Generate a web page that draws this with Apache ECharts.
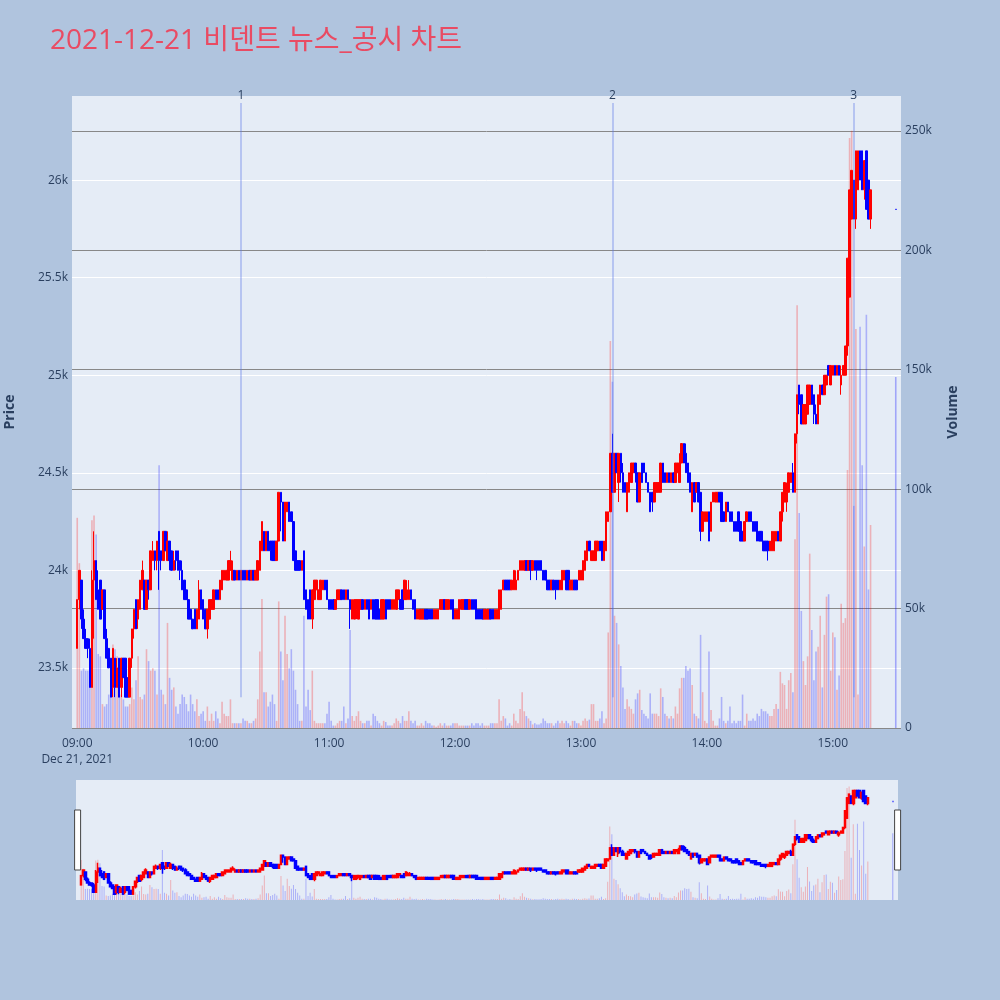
<!DOCTYPE html>
<html>
<head>
<meta charset="utf-8">
<script src="https://cdn.jsdelivr.net/npm/echarts@6/dist/echarts.min.js"></script>
<style>
  html, body { margin: 0; padding: 0; background: #B0C4DE; }
  #chart { width: 1000px; height: 1000px; }
</style>
</head>
<body>
<div id="chart"></div>
<script>
// 1분봉 [시가, 종가, 저가, 고가]
var h09 = [
  [23600,23850,23600,23850],[23850,24000,23800,24000],[23950,23750,23700,23950],[23750,23650,23650,23800],[23650,23600,23600,23700],
  [23650,23600,23550,23650],[23600,23400,23400,23650],[23400,23950,23400,24000],[23950,24050,23650,24200],[24050,23850,23850,24050],
  [23900,23800,23800,24000],[23950,23750,23750,23950],[23800,23900,23800,23900],[23900,23650,23650,23900],[23650,23550,23550,23700],
  [23600,23500,23500,23600],[23550,23350,23350,23550],[23400,23600,23350,23600],[23550,23400,23350,23550],[23400,23500,23400,23550],
  [23550,23350,23350,23550],[23400,23550,23350,23550],[23550,23450,23450,23550],[23550,23350,23350,23550],[23450,23350,23350,23450],
  [23350,23550,23350,23550],[23550,23700,23500,23700],[23700,23800,23650,23800],[23850,23700,23700,23850],[23750,23850,23700,23850],
  [23800,23950,23800,23950],[23900,24000,23900,24050],[23950,23800,23800,23950],[23800,23950,23800,23950],[23950,23900,23850,23950],
  [23900,24100,23900,24100],[24050,24100,24050,24150],[24100,24050,24000,24100],[24050,24150,24000,24150],[24200,24050,23900,24200],
  [24100,24050,24000,24100],[24050,24200,24050,24200],[24200,24100,24100,24200],[24050,24150,24050,24200],[24150,24050,24000,24150],
  [24100,24000,24000,24100],[24000,24050,24000,24100],[24100,24050,24000,24100],[24100,24000,24000,24100],[24050,24000,23950,24050],
  [24000,23900,23900,24050],[23950,23850,23850,23950],[23900,23850,23850,23900],[23850,23750,23750,23850],[23800,23750,23750,23800],
  [23750,23700,23700,23750],[23800,23700,23700,23800],[23700,23800,23700,23800],[23750,23900,23750,23950],[23900,23800,23800,23900]
];
var h10 = [
  [23850,23750,23750,23850],[23800,23700,23700,23800],[23700,23800,23650,23800],[23750,23850,23750,23850],[23800,23850,23800,23850],
  [23800,23900,23800,23900],[23900,23850,23850,23900],[23900,23850,23850,23900],[23850,23950,23850,23950],[23900,24000,23900,24000],
  [23950,24000,23950,24000],[23950,24000,23950,24000],[23950,24050,23950,24050],[24000,24050,24000,24100],[23950,24000,23950,24050],
  [24000,23950,23950,24000],[23950,24000,23950,24000],[24000,23950,23950,24000],[23950,24000,23950,24000],[24000,23950,23950,24000],
  [24000,23950,23950,24000],[23950,24000,23950,24000],[24000,23950,23950,24000],[23950,24000,23950,24000],[24000,23950,23950,24000],
  [23950,24000,23950,24000],[23950,24050,23950,24050],[24000,24150,24000,24150],[24100,24250,24100,24250],[24200,24100,24100,24200],
  [24100,24200,24100,24200],[24200,24100,24100,24200],[24150,24100,24050,24150],[24150,24050,24050,24150],[24150,24050,24050,24150],
  [24050,24150,24050,24150],[24150,24400,24150,24400],[24400,24350,24200,24400],[24350,24150,24150,24350],[24150,24350,24150,24350],
  [24300,24350,24300,24350],[24350,24250,24250,24350],[24300,24250,24250,24300],[24250,24050,24050,24250],[24100,24000,24000,24100],
  [24050,24000,24000,24050],[24050,24000,24000,24050],[24000,24050,24000,24050],[24100,23850,23850,24100],[23900,23800,23800,23900],
  [23850,23750,23750,23850],[23900,23750,23750,23900],[23750,23900,23700,23900],[23850,23950,23850,23950],[23900,23950,23900,23950],
  [23850,23900,23850,23900],[23850,23950,23850,23950],[23900,23950,23900,23950],[23950,23900,23900,23950],[23950,23850,23850,23950]
];
var h11 = [
  [23850,23800,23800,23850],[23850,23800,23800,23850],[23850,23800,23800,23850],[23800,23850,23800,23850],[23850,23900,23850,23900],
  [23850,23900,23850,23900],[23900,23850,23850,23900],[23900,23850,23850,23900],[23850,23900,23850,23900],[23900,23850,23850,23900],
  [23850,23800,23700,23850],[23750,23850,23750,23850],[23750,23850,23750,23850],[23800,23850,23750,23850],[23750,23850,23750,23850],
  [23800,23850,23800,23850],[23850,23800,23800,23850],[23800,23850,23800,23850],[23850,23800,23800,23850],[23850,23750,23750,23850],
  [23800,23850,23800,23850],[23850,23750,23750,23850],[23850,23750,23750,23850],[23850,23750,23750,23850],[23800,23750,23750,23800],
  [23750,23850,23750,23850],[23750,23850,23750,23850],[23850,23750,23750,23850],[23850,23800,23800,23850],[23850,23800,23800,23850],
  [23800,23850,23800,23850],[23800,23850,23800,23850],[23800,23900,23800,23900],[23850,23900,23850,23900],[23850,23800,23800,23850],
  [23900,23800,23800,23900],[23850,23950,23850,23950],[23850,23900,23850,23950],[23850,23900,23850,23950],[23900,23850,23850,23900],
  [23850,23800,23800,23850],[23850,23750,23750,23850],[23750,23800,23750,23800],[23750,23800,23750,23800],[23750,23800,23750,23800],
  [23750,23800,23750,23800],[23800,23750,23750,23800],[23800,23750,23750,23800],[23800,23750,23750,23800],[23800,23750,23750,23800],
  [23750,23800,23750,23800],[23750,23800,23750,23800],[23750,23800,23750,23800],[23800,23850,23800,23850],[23800,23850,23800,23850],
  [23850,23800,23800,23850],[23800,23850,23800,23850],[23800,23850,23800,23850],[23850,23800,23800,23850],[23850,23750,23750,23850]
];
var h12 = [
  [23750,23800,23750,23800],[23750,23800,23750,23800],[23750,23850,23750,23850],[23800,23850,23800,23850],[23800,23850,23800,23850],
  [23850,23800,23800,23850],[23850,23800,23800,23850],[23800,23850,23800,23850],[23850,23800,23800,23850],[23850,23800,23800,23850],
  [23850,23750,23750,23850],[23800,23750,23750,23800],[23800,23750,23750,23800],[23800,23750,23750,23800],[23750,23800,23750,23800],
  [23750,23800,23750,23800],[23750,23800,23750,23800],[23800,23750,23750,23800],[23800,23750,23750,23800],[23750,23800,23750,23800],
  [23750,23800,23750,23800],[23750,23900,23750,23900],[23800,23900,23800,23900],[23900,23950,23900,23950],[23950,23900,23900,23950],
  [23950,23900,23900,23950],[23950,23900,23900,23950],[23900,23950,23900,23950],[23900,24000,23900,24000],[23900,23950,23900,24000],
  [23950,24000,23950,24000],[24000,24050,24000,24050],[24000,24050,24000,24050],[24000,24050,24000,24050],[24050,24000,24000,24050],
  [24000,24050,24000,24050],[24050,24000,23950,24050],[24000,24050,24000,24050],[24050,24000,24000,24050],[24050,24000,23950,24050],
  [24050,24000,24000,24050],[24050,24000,24000,24050],[24000,23950,23950,24000],[24000,23950,23950,24000],[23950,23900,23900,23950],
  [23950,23900,23900,23950],[23900,23950,23900,23950],[23950,23900,23900,23950],[23950,23900,23850,23950],[23950,23900,23900,23950],
  [23900,23950,23900,23950],[23900,24000,23900,24000],[23950,24000,23950,24000],[24000,23900,23900,24000],[24000,23900,23900,24000],
  [23900,23950,23900,23950],[23900,23950,23900,23950],[23950,23900,23900,23950],[23950,23900,23900,23950],[23950,24000,23950,24000]
];
var h13 = [
  [23950,24000,23950,24000],[23950,24050,23950,24050],[24000,24100,24000,24100],[24050,24150,24050,24150],[24150,24100,24100,24150],
  [24050,24100,24050,24100],[24050,24100,24050,24100],[24050,24150,24050,24150],[24100,24150,24100,24150],[24150,24100,24100,24150],
  [24150,24050,24050,24150],[24050,24150,24050,24150],[24100,24300,24100,24300],[24250,24300,24250,24300],[24300,24600,24300,24600],
  [24600,24400,24400,24700],[24400,24600,24400,24600],[24600,24500,24500,24600],[24450,24600,24350,24600],[24600,24500,24450,24600],
  [24500,24400,24400,24550],[24450,24400,24400,24450],[24300,24450,24300,24450],[24400,24500,24400,24500],[24450,24550,24450,24550],
  [24500,24550,24500,24550],[24550,24500,24450,24550],[24500,24350,24350,24500],[24350,24500,24350,24500],[24550,24450,24450,24550],
  [24550,24500,24500,24550],[24500,24450,24450,24500],[24450,24400,24400,24450],[24400,24300,24300,24400],[24400,24350,24300,24400],
  [24350,24450,24350,24450],[24400,24450,24400,24450],[24400,24450,24400,24450],[24400,24550,24400,24550],[24550,24450,24450,24550],
  [24500,24450,24450,24500],[24450,24500,24450,24500],[24500,24450,24450,24500],[24450,24500,24450,24500],[24500,24450,24450,24500],
  [24450,24550,24450,24550],[24500,24550,24500,24550],[24450,24550,24450,24600],[24550,24650,24550,24650],[24650,24550,24550,24650],
  [24600,24500,24500,24650],[24550,24450,24450,24550],[24500,24400,24400,24500],[24300,24450,24300,24450],[24450,24350,24350,24450],
  [24400,24450,24400,24450],[24450,24350,24350,24450],[24400,24200,24150,24400],[24200,24300,24200,24300],[24250,24300,24250,24300]
];
var h14 = [
  [24250,24300,24250,24300],[24300,24150,24150,24300],[24200,24350,24200,24350],[24350,24400,24350,24400],[24350,24400,24350,24400],
  [24350,24400,24350,24400],[24400,24350,24350,24400],[24400,24250,24250,24400],[24300,24250,24250,24300],[24250,24350,24250,24350],
  [24350,24300,24300,24350],[24300,24250,24250,24300],[24300,24250,24250,24300],[24250,24200,24200,24250],[24250,24200,24200,24250],
  [24300,24200,24200,24300],[24250,24150,24150,24250],[24200,24150,24150,24200],[24150,24250,24150,24250],[24250,24300,24250,24300],
  [24300,24250,24250,24300],[24300,24250,24250,24300],[24250,24200,24200,24250],[24250,24200,24200,24250],[24250,24150,24150,24250],
  [24200,24150,24150,24200],[24200,24150,24150,24200],[24150,24100,24100,24150],[24150,24100,24100,24150],[24150,24100,24050,24150],
  [24100,24150,24100,24150],[24100,24200,24100,24200],[24100,24200,24100,24200],[24150,24200,24150,24200],[24200,24150,24150,24200],
  [24150,24300,24150,24300],[24300,24400,24250,24400],[24350,24450,24350,24450],[24350,24400,24300,24450],[24400,24500,24400,24500],
  [24450,24500,24450,24500],[24500,24400,24400,24550],[24400,24700,24400,24700],[24700,24900,24650,24900],[24950,24850,24800,24950],
  [24900,24750,24750,24900],[24750,24850,24750,24850],[24750,24850,24750,24850],[24800,24950,24800,24950],[24850,24950,24850,24950],
  [24950,24850,24850,24950],[24900,24800,24750,24900],[24800,24750,24750,24850],[24750,24900,24750,24900],[24850,24950,24850,24950],
  [24950,24900,24900,24950],[24900,25000,24900,25000],[24950,25000,24950,25000],[25050,25000,25000,25050],[24950,25050,24950,25050]
];
var h15 = [
  [25000,25050,25000,25050],[25050,25000,25000,25050],[25000,25050,25000,25050],[25050,25000,25000,25050],[24950,25000,24900,25050],
  [25000,25050,25000,25050],[25000,25150,25000,25150],[25150,25600,25100,25600],[25400,25950,25400,25950],[25800,26050,25800,26050],
  [26000,25800,25800,26000],[25800,26150,25750,26150],[25950,26150,25950,26150],[26150,26000,26000,26150],[26150,25950,25950,26150],
  [25950,26100,25900,26100],[26150,25850,25850,26150],[26000,25800,25800,26000],[25800,25950,25750,25950]
];
// 15:30 종가 단일가
var closeAuction = [25850,25850,25850,25850];

// 거래량
var v09 = [88000,69000,24000,25000,24000,24000,20000,87000,89000,81000,31000,30000,10000,9000,10000,14000,20000,35000,33000,30000,
  19000,14000,12000,9000,9000,10000,17000,12000,20000,30000,13000,12000,14000,33000,28000,24000,25000,24000,14000,110000,
  16000,14000,10000,44000,21000,16000,17000,9000,6000,10000,14000,13000,10000,7000,14000,10000,7000,12000,5000,6000];
var v10 = [7000,3000,9000,3000,6000,3000,7000,4000,2000,11000,6000,5000,5000,12000,2000,2000,2000,2000,2000,4000,
  3000,3000,2000,2000,3000,4000,12000,32000,54000,15000,15000,9000,11000,14000,10000,3000,53000,32000,20000,47000,
  31000,25000,33000,24000,16000,10000,3000,3000,47000,9000,16000,7500,24000,3000,2000,2000,2000,2000,2000,6000];
var v11 = [11000,3000,1000,1000,2000,3000,3000,9000,2000,4000,41000,5000,3000,5000,7000,3000,2000,2000,3000,3000,
  1000,6000,5000,3000,2000,1000,3000,2500,1000,1000,1000,2000,4000,3000,2000,5000,3000,3000,7000,3000,
  2000,3000,1000,1000,2000,1000,3000,2000,2000,1000,1000,500,1000,2000,1000,2000,1000,1000,1000,2000];
var v12 = [2000,2000,1000,1000,1000,1000,1000,1000,2000,1000,2000,2000,1000,2000,1000,1000,1000,2000,2000,2000,
  2000,12000,3000,5000,4000,1000,2000,1000,6000,3000,2000,8000,15000,7000,5000,4000,3000,1500,2000,1500,
  1500,2000,4000,3000,2000,2000,2000,1000,2000,3000,2000,3000,2000,3000,2000,1000,3000,3000,2000,2000];
var v13 = [1000,3000,4000,3000,3500,10000,10000,3000,3000,4000,7000,2000,4000,40000,162000,145000,47000,44000,35000,26000,
  17000,8000,12000,9000,8000,6000,12000,14500,16000,7500,6000,5000,4000,14500,6000,6000,6000,5000,16600,13000,
  6000,5000,4000,5000,4000,9000,6000,16600,21000,21000,26000,24000,25000,18000,6000,5000,4000,39000,15000,3000];
var v14 = [2000,32000,7500,3000,1000,1000,4000,13000,3000,2000,3000,9000,2000,3000,2000,3000,3000,14000,1000,6000,
  3000,3000,4000,3000,6000,5000,8000,7000,7000,6000,5000,5000,8000,10000,8000,23500,18700,18000,8000,20000,
  23000,15000,79000,177000,90000,49000,28000,18000,30000,73000,41000,20000,32000,34000,47000,17000,39000,55000,56000,24000];
var v15 = [40000,38000,16000,22000,52000,44000,46000,108000,247000,250000,93000,167000,14000,168000,110000,76000,173000,58000,85000];
var closeAuctionVol = 147000;

var hourLabels = ['09:00','10:00','11:00','12:00','13:00','14:00','15:00'];
var priceTicks = [23500, 24000, 24500, 25000, 25500, 26000];
var volumeTicks = [0, 50000, 100000, 150000, 200000, 250000];
var newsMarks = [{ name: '1', time: '10:18' }, { name: '2', time: '13:15' }, { name: '3', time: '15:10' }];

var UP = '#FF0000', DOWN = '#0000FF';

// x축 카테고리 (08:58 ~ 15:32, 1분 간격)
function hhmm(min) {
  var h = Math.floor(min / 60), m = min % 60;
  return (h < 10 ? '0' : '') + h + ':' + (m < 10 ? '0' : '') + m;
}
var categories = [];
for (var t = 9 * 60 - 2; t <= 15 * 60 + 32; t++) categories.push(hhmm(t));

var candles = [].concat(h09, h10, h11, h12, h13, h14, h15);
var vols = [].concat(v09, v10, v11, v12, v13, v14, v15);

var candleData = [], volData = [];
categories.forEach(function () { candleData.push('-'); volData.push('-'); });
var start = categories.indexOf('09:00');
candles.forEach(function (k, i) {
  candleData[start + i] = k;
  volData[start + i] = { value: vols[i], itemStyle: { color: k[1] > k[0] ? UP : DOWN, opacity: 0.25 } };
});
var auctionIdx = categories.indexOf('15:30');
candleData[auctionIdx] = closeAuction;
volData[auctionIdx] = { value: closeAuctionVol, itemStyle: { color: DOWN, opacity: 0.3 } };

var PRICE_MIN = 23192, PRICE_MAX = 26431, VOL_MAX = 264600;
var FONT = '"Open Sans", "Noto Sans CJK KR", sans-serif';
var AXIS_COLOR = '#2a3f5f';

var chart = echarts.init(document.getElementById('chart'));
chart.setOption({
  backgroundColor: '#B0C4DE',
  animation: false,
  textStyle: { fontFamily: FONT },
  title: {
    text: '2021-12-21 비덴트 뉴스_공시 차트',
    left: 45, top: 22,
    textStyle: { color: '#E94B63', fontSize: 28, fontWeight: 'normal', fontFamily: FONT }
  },
  grid: [
    { left: 72, right: 99, top: 96, height: 632, show: true, backgroundColor: '#E5ECF6', borderWidth: 0,
      containLabel: false, outerBoundsMode: 'none' },
    { left: 76, right: 102, top: 780, height: 120, show: true, backgroundColor: '#E5ECF6', borderWidth: 0,
      containLabel: false, outerBoundsMode: 'none' }
  ],
  xAxis: [
    {
      type: 'category', gridIndex: 0, data: categories, boundaryGap: true,
      axisLine: { show: false }, axisTick: { show: false }, splitLine: { show: false },
      axisLabel: {
        color: AXIS_COLOR, fontSize: 12, margin: 8, lineHeight: 16,
        interval: function (idx, val) { return hourLabels.indexOf(val) >= 0; },
        formatter: function (val) { return val === '09:00' ? '09:00\nDec 21, 2021' : val; }
      }
    },
    {
      type: 'category', gridIndex: 1, data: categories, boundaryGap: true,
      axisLine: { show: false }, axisTick: { show: false }, axisLabel: { show: false }, splitLine: { show: false }
    }
  ],
  yAxis: [
    {
      type: 'value', gridIndex: 0, position: 'left', min: PRICE_MIN, max: PRICE_MAX,
      name: 'Price', nameLocation: 'middle', nameRotate: 90, nameGap: 55,
      nameTextStyle: { color: AXIS_COLOR, fontSize: 14, fontWeight: 'bold' },
      axisLine: { show: false },
      axisTick: { show: false, customValues: priceTicks },
      axisLabel: {
        color: AXIS_COLOR, fontSize: 12, margin: 4, customValues: priceTicks,
        formatter: function (v) { return (v / 1000) + 'k'; }
      },
      splitLine: { show: true, lineStyle: { color: '#FFFFFF', width: 1 } }
    },
    {
      type: 'value', gridIndex: 0, position: 'right', min: 0, max: VOL_MAX,
      name: 'Volume', nameLocation: 'middle', nameRotate: 90, nameGap: 45,
      nameTextStyle: { color: AXIS_COLOR, fontSize: 14, fontWeight: 'bold' },
      axisLine: { show: false },
      axisTick: { show: false, customValues: volumeTicks },
      axisLabel: {
        color: AXIS_COLOR, fontSize: 12, margin: 4, customValues: volumeTicks,
        formatter: function (v) { return v === 0 ? '0' : (v / 1000) + 'k'; }
      },
      splitLine: { show: true, lineStyle: { color: '#888888', width: 1 } }
    },
    { type: 'value', gridIndex: 1, min: PRICE_MIN, max: PRICE_MAX, show: false, splitLine: { show: false } },
    { type: 'value', gridIndex: 1, min: 0, max: VOL_MAX, show: false, splitLine: { show: false } }
  ],
  dataZoom: [{
    type: 'slider', xAxisIndex: 0, filterMode: 'none', start: 0, end: 100,
    left: 76, right: 102, top: 780, height: 120,
    backgroundColor: 'rgba(0,0,0,0)', borderColor: 'rgba(0,0,0,0)', fillerColor: 'rgba(0,0,0,0)',
    showDetail: false, showDataShadow: false, brushSelect: false,
    moveHandleSize: 0,
    dataBackground: { lineStyle: { opacity: 0 }, areaStyle: { opacity: 0 } },
    handleIcon: 'path://M0,0L6,0L6,60L0,60Z', handleSize: '50%',
    handleStyle: { color: '#FFFFFF', borderColor: '#444444', borderWidth: 1 },
    emphasis: { handleStyle: { color: '#FFFFFF', borderColor: '#444444' } }
  }],
  series: [
    {
      name: 'Volume', type: 'bar', xAxisIndex: 0, yAxisIndex: 1, data: volData,
      barWidth: 1.6, z: 1, silent: true
    },
    {
      name: 'Price', type: 'candlestick', xAxisIndex: 0, yAxisIndex: 0, data: candleData,
      barWidth: 2, z: 3,
      itemStyle: { color: UP, color0: DOWN, borderColor: UP, borderColor0: DOWN, borderWidth: 1 },
      markLine: {
        symbol: 'none', silent: true, animation: false,
        lineStyle: { color: 'rgba(90,120,230,0.45)', width: 1.5, type: 'solid' },
        label: { show: true, position: 'end', distance: 1, color: AXIS_COLOR, fontSize: 12 },
        data: newsMarks.map(function (n) {
          return [
            { coord: [n.time, 23350], name: n.name },
            { coord: [n.time, 26395], name: n.name }
          ];
        })
      }
    },
    {
      type: 'bar', xAxisIndex: 1, yAxisIndex: 3, data: volData, barWidth: 1, z: 1, silent: true
    },
    {
      type: 'candlestick', xAxisIndex: 1, yAxisIndex: 2, data: candleData, barWidth: 2, z: 3, silent: true,
      itemStyle: { color: UP, color0: DOWN, borderColor: UP, borderColor0: DOWN, borderWidth: 1.5 }
    }
  ]
});
</script>
</body>
</html>
